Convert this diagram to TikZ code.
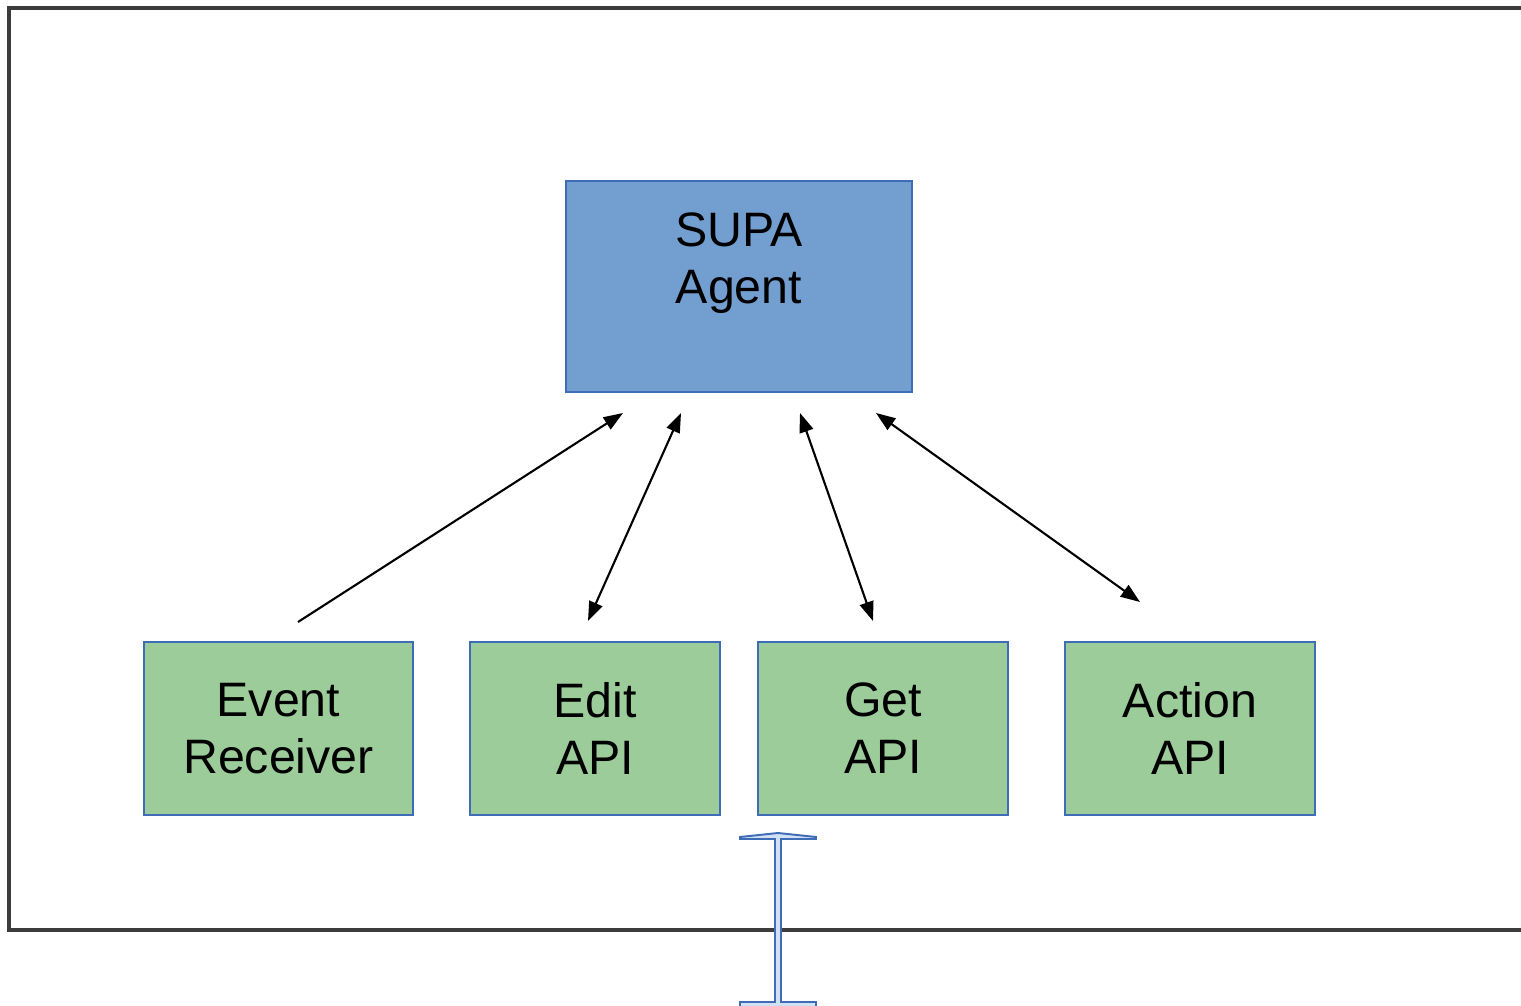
\documentclass[tikz,border=0pt]{standalone}
\usepackage{fontspec}
\setmainfont{Liberation Sans}
\usetikzlibrary{positioning,calc,arrows.meta}
\definecolor{agentblue}{RGB}{115,159,208}
\definecolor{edgeblue}{RGB}{62,108,182}
\definecolor{apigreen}{RGB}{155,204,153}
\definecolor{framegray}{RGB}{60,60,60}
\definecolor{beamfill}{RGB}{210,224,244}

\begin{document}
\begin{tikzpicture}[x=0.02cm,y=-0.02cm,
  box/.style={draw=edgeblue, line width=0.8pt, inner sep=0pt, align=center,
    font=\fontsize{27.5}{32.3}\selectfont},
  agentbox/.style={box, fill=agentblue, minimum width=6.92cm, minimum height=4.22cm},
  apibox/.style={box, fill=apigreen, minimum width=5cm, minimum height=3.46cm},
  link/.style={line width=1.2pt, -{Triangle[length=11pt,width=8pt]}},
  twolink/.style={link, {Triangle[length=11pt,width=8pt]}-{Triangle[length=11pt,width=8pt]}}]

 \clip (0,0) rectangle (1521,1006);
 \fill[white] (0,0) rectangle (1521,1006);

 \draw[line width=2pt, framegray] (1540,8) -- (9,8) -- (9,930) -- (1540,930);

 \node[agentbox] (supa) at (739,286.5) {};
 \node[box, draw=none, anchor=north] (supatext) at (739,212) {SUPA\\Agent};

 \node[apibox, minimum width=5.38cm] (event) at (278.5,728.5) {Event\\Receiver};
 \node[apibox] (edit) at (595,728.5) {Edit\\API};
 \node[apibox] (get) at (883,728.5) {Get\\API};
 \node[apibox] (action) at (1190,728.5) {Action\\API};

 \coordinate (e1) at (298,622);
 \coordinate (e2) at (623,413);
 \coordinate (d1) at (588,621);
 \coordinate (d2) at (681,413);
 \coordinate (g1) at (800,413);
 \coordinate (g2) at (873,621);
 \coordinate (a1) at (876,413);
 \coordinate (a2) at (1140,602);

 \draw[link] (e1) -- (e2);
 \draw[twolink] (d1) -- (d2);
 \draw[twolink] (g1) -- (g2);
 \draw[twolink] (a1) -- (a2);

 \draw[edgeblue, fill=beamfill, line width=1.1pt]
   (740,837) -- (759,835) -- (778,833) -- (797,835) -- (816,837) -- (816,839)
   -- (781,839) -- (781,1002) -- (816,1002) -- (816,1010) -- (740,1010)
   -- (740,1002) -- (775,1002) -- (775,839) -- (740,839) -- cycle;

\end{tikzpicture}
\end{document}
